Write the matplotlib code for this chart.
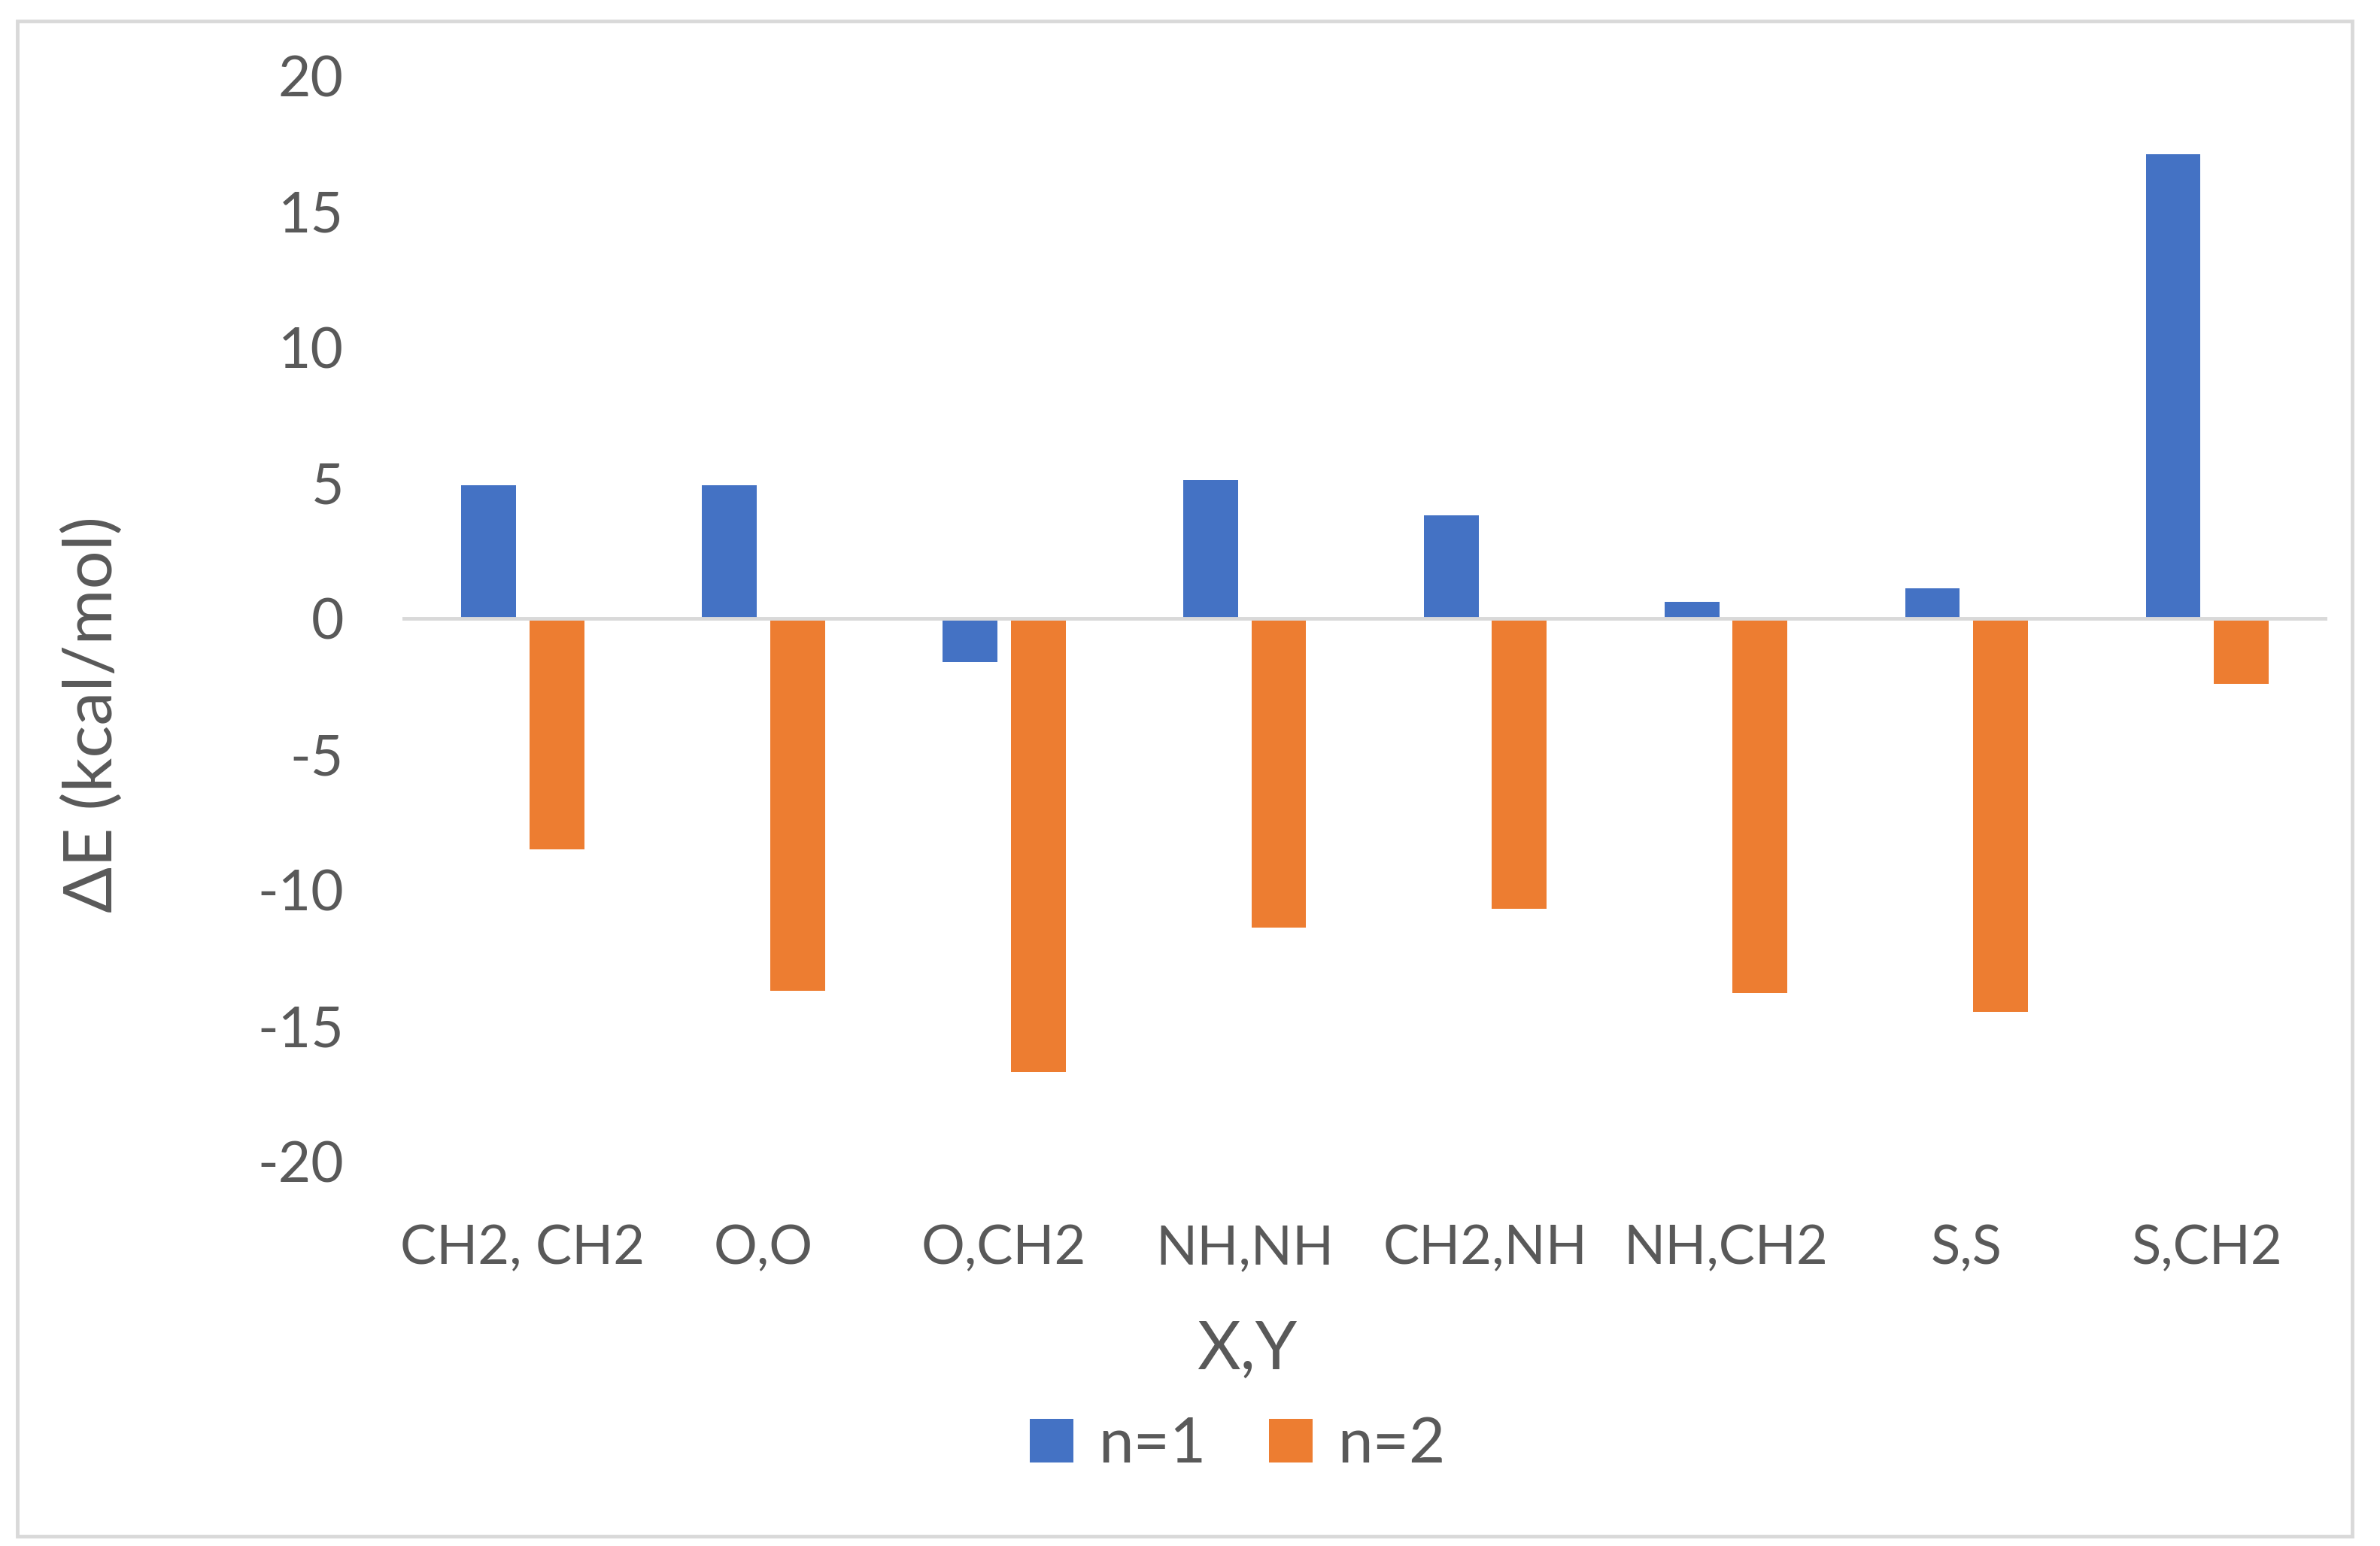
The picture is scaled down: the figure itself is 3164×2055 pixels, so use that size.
import matplotlib
matplotlib.use("Agg")
import matplotlib.pyplot as plt
import numpy as np
from matplotlib.patches import Rectangle

plt.rcParams["font.family"] = ["Lato", "DejaVu Sans"]

# 取值（kcal/mol）
categories = ["CH2, CH2", "O,O", "O,CH2", "NH,NH", "CH2,NH", "NH,CH2", "S,S", "S,CH2"]
n1_values = [4.9, 4.9, -1.6, 5.1, 3.8, 0.6, 1.1, 17.1]
n2_values = [-8.5, -13.7, -16.7, -11.4, -10.7, -13.8, -14.5, -2.4]
y_ticks = [-20, -15, -10, -5, 0, 5, 10, 15, 20]

BLUE = "#4472C4"
ORANGE = "#ED7D31"
TEXT = "#595959"
GRID = "#D9D9D9"

fig = plt.figure(figsize=(31.64, 20.55), dpi=100)
ax = fig.add_axes([0.169, 0.2487, 0.809, 0.7026])

x = np.arange(len(categories))
width = 0.228
offset = 0.142
bars1 = ax.bar(x - offset, n1_values, width, color=BLUE, label="n=1", zorder=2)
bars2 = ax.bar(x + offset, n2_values, width, color=ORANGE, label="n=2", zorder=2)

# 零线画在柱子上面
ax.axhline(0, color=GRID, linewidth=3.5, zorder=3)

ax.set_xlim(-0.5, len(categories) - 0.5)
ax.set_ylim(-20, 20)
ax.set_yticks(y_ticks)
ax.set_yticklabels([str(v) for v in y_ticks])
ax.set_xticks(x)
ax.set_xticklabels(categories)
ax.tick_params(axis="y", length=0, pad=56, labelsize=54, labelcolor=TEXT)
ax.tick_params(axis="x", length=0, pad=60, labelsize=52, labelcolor=TEXT)
for side in ["top", "right", "left", "bottom"]:
    ax.spines[side].set_visible(False)

fig.text(0.039, 0.538, "ΔE (kcal/mol)", rotation=90, ha="center", va="center",
         fontsize=65, color=TEXT)
fig.text(0.524, 0.1265, "X,Y", ha="center", va="center", fontsize=64, color=TEXT)

leg = fig.legend(handles=[bars1, bars2], loc="center", bbox_to_anchor=(0.52, 0.065),
                 ncol=2, frameon=False, fontsize=60, handlelength=0.7, handleheight=0.7,
                 handletextpad=0.4, columnspacing=1.0)
for t in leg.get_texts():
    t.set_color(TEXT)

# 外框
fig.patches.append(Rectangle((0.0073, 0.0063), 0.981, 0.980, transform=fig.transFigure,
                             fill=False, edgecolor=GRID, linewidth=3.5))

fig.savefig("out.png", dpi=100)
